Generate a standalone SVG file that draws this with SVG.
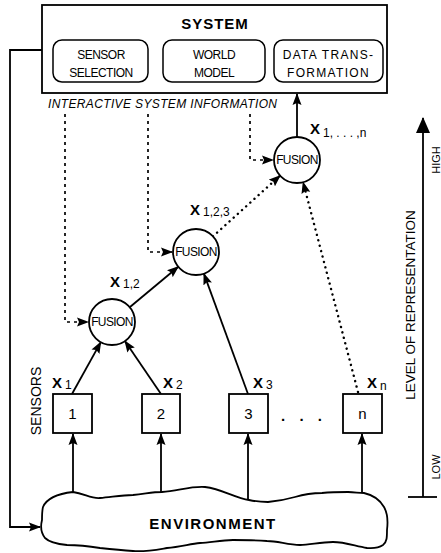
<svg xmlns="http://www.w3.org/2000/svg" width="441" height="553" viewBox="0 0 441 553">
<style>
text{font-family:"Liberation Sans",Arial,Helvetica,sans-serif;fill:#000}
.ln{stroke:#000;stroke-width:1.8;fill:none}
.dash{stroke:#000;stroke-width:1.7;fill:none;stroke-dasharray:3 4}
.dot{stroke:#000;stroke-width:2.4;fill:none;stroke-dasharray:0.1 5.5;stroke-linecap:round}
.box{fill:#fff;stroke:#000;stroke-width:1.8}
.rbox{fill:#fff;stroke:#000;stroke-width:1.5}
.sub{font-size:12px}
.sm{font-size:12px;letter-spacing:-0.5px}
.wide{font-size:12px;letter-spacing:1.3px}
.X{font-size:15px;font-weight:bold}
.fus{font-size:12px;letter-spacing:-0.6px}
.big{font-size:15px;font-weight:bold}
</style>
<defs>
<marker id="ah" markerWidth="12" markerHeight="10" refX="11" refY="5" orient="auto" markerUnits="userSpaceOnUse">
<path d="M0,0.5 L12,5 L0,9.5 L2,5 z" fill="#000"/>
</marker>
<marker id="ahb" markerWidth="16" markerHeight="14" refX="15" refY="7" orient="auto" markerUnits="userSpaceOnUse">
<path d="M0,0 L16,7 L0,14 z" fill="#000"/>
</marker>
</defs>

<g id="connectors">
<path class="ln" d="M42,50 H10 V527 H40" marker-end="url(#ah)"/>
<path class="ln" d="M73,497 V434" marker-end="url(#ah)"/>
<path class="ln" d="M161,496 V434" marker-end="url(#ah)"/>
<path class="ln" d="M248,502 V434" marker-end="url(#ah)"/>
<path class="ln" d="M362,498 V434" marker-end="url(#ah)"/>
<path class="ln" d="M72,394 L100.8,342.1" marker-end="url(#ah)"/>
<path class="ln" d="M161,394 L124.9,341" marker-end="url(#ah)"/>
<path class="ln" d="M129.7,307.3 L178.3,266.7" marker-end="url(#ah)"/>
<path class="ln" d="M248,394 L203.9,273.6" marker-end="url(#ah)"/>
<path class="dot" d="M212.9,236.4 L280.1,175.6" marker-end="url(#ah)"/>
<path class="dot" d="M358,392 L303.1,182.2" marker-end="url(#ah)"/>
<path class="ln" d="M297,137 V94" marker-end="url(#ah)"/>
<path class="dash" d="M65,114 V322 H88" marker-end="url(#ah)"/>
<path class="dash" d="M148,114 V252 H172" marker-end="url(#ah)"/>
<path class="dash" d="M250,114 V160 H273" marker-end="url(#ah)"/>
</g>

<g id="system">
<rect class="box" x="42" y="5" width="345" height="88"/>
<text class="big" x="215" y="29" text-anchor="middle" letter-spacing="1">SYSTEM</text>
</g>
<g id="sensor-selection">
<rect class="rbox" x="53" y="40" width="95" height="42" rx="9"/>
<text class="sm" x="101" y="59" text-anchor="middle">SENSOR</text>
<text class="sm" x="101" y="77" text-anchor="middle">SELECTION</text>
</g>
<g id="world-model">
<rect class="rbox" x="163" y="40" width="102" height="42" rx="9"/>
<text class="sm" x="214" y="59" text-anchor="middle">WORLD</text>
<text class="sm" x="214" y="77" text-anchor="middle">MODEL</text>
</g>
<g id="data-transformation">
<rect class="rbox" x="274" y="40" width="109" height="42" rx="9"/>
<text class="wide" x="328.5" y="59" text-anchor="middle">DATA TRANS-</text>
<text class="wide" x="328.5" y="77" text-anchor="middle">FORMATION</text>
</g>
<text x="48" y="108" font-size="12" font-style="italic" textLength="229">INTERACTIVE SYSTEM INFORMATION</text>

<g id="fusion-3">
<circle class="box" cx="297" cy="160" r="23"/>
<text class="fus" x="297" y="164" text-anchor="middle">FUSION</text>
</g>
<g id="fusion-2">
<circle class="box" cx="196" cy="252" r="23"/>
<text class="fus" x="196" y="256" text-anchor="middle">FUSION</text>
</g>
<g id="fusion-1">
<circle class="box" cx="112" cy="322" r="23"/>
<text class="fus" x="112" y="326" text-anchor="middle">FUSION</text>
</g>

<g id="labels-x">
<text x="310" y="134"><tspan class="X">X</tspan><tspan class="sub" dx="3" dy="3">1, . . . ,n</tspan></text>
<text x="190" y="215"><tspan class="X">X</tspan><tspan class="sub" dx="3" dy="1">1,2,3</tspan></text>
<text x="110" y="287"><tspan class="X">X</tspan><tspan class="sub" dx="3" dy="1">1,2</tspan></text>
<text x="52" y="388"><tspan class="X">X</tspan><tspan class="sub" dx="3" dy="1">1</tspan></text>
<text x="163" y="388"><tspan class="X">X</tspan><tspan class="sub" dx="3" dy="1">2</tspan></text>
<text x="253" y="388"><tspan class="X">X</tspan><tspan class="sub" dx="3" dy="1">3</tspan></text>
<text x="367" y="388"><tspan class="X">X</tspan><tspan class="sub" dx="3" dy="2">n</tspan></text>
</g>

<text x="41" y="401" font-size="14" text-anchor="middle" transform="rotate(-90 41 401)">SENSORS</text>

<g id="sensor-1">
<rect class="box" x="53" y="394" width="39" height="39"/>
<text x="72.5" y="419" font-size="15" text-anchor="middle">1</text>
</g>
<g id="sensor-2">
<rect class="box" x="142" y="394" width="38" height="39"/>
<text x="161" y="419" font-size="15" text-anchor="middle">2</text>
</g>
<g id="sensor-3">
<rect class="box" x="229" y="394" width="39" height="39"/>
<text x="248.5" y="419" font-size="15" text-anchor="middle">3</text>
</g>
<text x="304" y="421" font-size="15" font-weight="bold" text-anchor="middle" letter-spacing="5">. . .</text>
<g id="sensor-n">
<rect class="box" x="343" y="394" width="39" height="39"/>
<text x="362.5" y="419" font-size="15" text-anchor="middle">n</text>
</g>

<g id="environment">
<path class="box" d="M43,507 C46,500 55,494 73,492 C85,494 92,499 100,498 C112,497 122,495 133,495 C145,494 152,492 162,492 C178,491 190,486 205,487 C222,489 235,498 249,500 C258,502 262,502 268,502 C280,501 288,499 295,497 C305,494 312,493 322,493 C332,492 340,492 348,492 C355,492 358,493 364,493 C373,495 380,500 384,507 C388,514 388,522 387,530 C387,537 387,542 383,545 C377,549 372,548 367,548 C355,546 345,542 333,542 C320,542 310,545 300,545 C288,545 278,541 267,541 C255,540 245,540 233,540 C220,540 210,543 200,543 C190,544 180,547 167,548 C155,550 145,552 133,551 C120,550 110,549 100,548 C88,546 77,545 67,545 C57,544 49,542 45,538 C41,533 40,528 42,520 C42,515 42,511 43,507 Z"/>
<text class="big" x="213" y="529" text-anchor="middle" letter-spacing="1.5">ENVIRONMENT</text>
</g>

<g id="level-axis">
<path class="ln" d="M423,497 V118" stroke-width="2.6" marker-end="url(#ahb)"/>
<path class="ln" d="M408,497 H437" stroke-width="2.6"/>
<text x="415" y="305" font-size="13.5" text-anchor="middle" transform="rotate(-90 415 305)">LEVEL OF REPRESENTATION</text>
<text x="440" y="160" font-size="11" text-anchor="middle" transform="rotate(-90 440 160)">HIGH</text>
<text x="440" y="467" font-size="11" text-anchor="middle" transform="rotate(-90 440 467)">LOW</text>
</g>
</svg>
